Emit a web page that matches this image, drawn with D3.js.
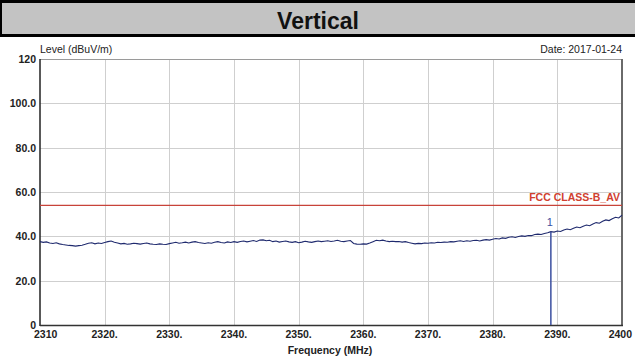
<!DOCTYPE html>
<html><head><meta charset="utf-8">
<script src="https://cdn.jsdelivr.net/npm/d3@7"></script>
<style>html,body{margin:0;padding:0;background:#fff;}svg{display:block;}</style>
</head><body>
<script>
const title = "Vertical";
const yLabel = "Level (dBuV/m)";
const xLabel = "Frequency (MHz)";
const dateText = "Date: 2017-01-24";
const xTicks = [2310, 2320, 2330, 2340, 2350, 2360, 2370, 2380, 2390, 2400];
const xTickLabels = ["2310", "2320.", "2330.", "2340.", "2350.", "2360.", "2370.", "2380.", "2390.", "2400"];
const yTicks = [0, 20, 40, 60, 80, 100, 120];
const yTickLabels = ["0", "20.0", "40.0", "60.0", "80.0", "100.0", "120"];
const limitName = "FCC CLASS-B_AV";
const limitValue = 54;
const freqStart = 2310, freqStep = 0.5;
const levels = [
 37.6,37.3,37.5,37.0,36.8,37.1,36.6,36.3,36.1,35.9,35.8,35.6,35.8,36.0,36.4,36.9,37.1,36.6,37.0,36.8,
 37.2,37.6,37.9,37.3,37.0,36.6,36.8,36.4,36.6,36.9,36.7,36.5,36.8,37.0,36.6,36.4,36.3,36.6,36.4,36.3,
 36.7,37.0,37.3,36.9,37.1,37.4,37.0,37.4,37.6,37.2,37.0,36.8,37.1,36.9,37.3,37.6,37.2,37.0,37.5,37.2,
 37.6,37.3,37.7,37.9,37.5,37.8,38.1,37.7,38.3,38.4,38.0,38.2,37.6,37.9,37.4,37.7,37.9,37.5,37.3,37.6,
 37.1,37.4,37.8,37.5,37.3,37.6,37.9,37.6,37.8,38.0,37.7,37.9,38.2,37.8,37.6,37.9,38.1,36.8,36.5,36.4,
 36.6,36.5,37.0,37.6,38.2,38.0,38.3,37.9,37.6,37.8,37.6,37.7,37.4,37.6,37.2,36.9,36.6,36.8,36.7,37.0,
 36.9,37.1,37.0,37.3,37.2,37.4,37.3,37.6,37.5,37.8,38.0,37.7,38.0,37.8,38.1,38.2,37.9,38.3,38.5,38.3,
 38.7,39.0,38.8,39.3,39.1,39.6,39.8,39.5,39.9,40.2,40.0,40.4,40.3,40.8,41.0,40.8,41.3,41.6,42.1,41.9,
 42.4,42.2,42.9,43.3,43.0,43.6,44.2,43.9,44.6,45.1,44.8,45.6,46.2,45.9,46.8,47.4,47.1,47.9,48.6,48.3,
 49.6
];
const markerFreq = 2389;
const markerLevel = 42.1;
const markerLabel = "1";

const W = 635, H = 358;
const svg = d3.select("body").append("svg").attr("width", W).attr("height", H);
const x = d3.scaleLinear().domain([2310, 2400]).range([40, 622]);
const y = d3.scaleLinear().domain([0, 120]).range([325, 59]);

// title bar
svg.append("rect").attr("x", 0).attr("y", 0).attr("width", W).attr("height", 37).attr("fill", "#000");
svg.append("rect").attr("x", 2).attr("y", 3).attr("width", W - 2).attr("height", 31).attr("fill", "#c3c3c3");
svg.append("text").attr("x", 318).attr("y", 29).attr("text-anchor", "middle")
  .attr("font-family", "Liberation Sans, Arial, sans-serif").attr("font-weight", "bold")
  .attr("font-size", 23).attr("fill", "#111").text(title);

const font = "Liberation Sans, Arial, sans-serif";

// grid
const g = svg.append("g");
g.selectAll(".vg").data(xTicks.slice(1, -1)).enter().append("line")
  .attr("x1", d => Math.round(x(d)) + 0.5).attr("x2", d => Math.round(x(d)) + 0.5)
  .attr("y1", y(120)).attr("y2", y(0)).attr("stroke", "#cfcfcf").attr("stroke-width", 1);
g.selectAll(".hg").data(yTicks.slice(1, -1)).enter().append("line")
  .attr("x1", x(2310)).attr("x2", x(2400))
  .attr("y1", d => Math.round(y(d)) + 0.5).attr("y2", d => Math.round(y(d)) + 0.5)
  .attr("stroke", "#cfcfcf").attr("stroke-width", 1);
// frame
g.append("line").attr("x1", x(2310)).attr("x2", x(2400)).attr("y1", y(120) + 0.5).attr("y2", y(120) + 0.5)
  .attr("stroke", "#9a9a9a");
g.append("line").attr("x1", x(2400)).attr("x2", x(2400)).attr("y1", y(120)).attr("y2", y(0) + 1)
  .attr("stroke", "#6a6a6a").attr("stroke-width", 2);
g.append("line").attr("x1", x(2310)).attr("x2", x(2310)).attr("y1", y(120)).attr("y2", y(0) + 1)
  .attr("stroke", "#222").attr("stroke-width", 1.5);
g.append("line").attr("x1", x(2310)).attr("x2", x(2400) + 1).attr("y1", y(0) + 0.5).attr("y2", y(0) + 0.5)
  .attr("stroke", "#333").attr("stroke-width", 1.5);

// limit line
svg.append("line").attr("x1", x(2310)).attr("x2", x(2400)).attr("y1", y(limitValue)).attr("y2", y(limitValue))
  .attr("stroke", "#c8433a").attr("stroke-width", 1.2);
svg.append("text").attr("x", 620).attr("y", y(limitValue) - 4).attr("text-anchor", "end")
  .attr("font-family", font).attr("font-weight", "bold").attr("font-size", 10.5)
  .attr("fill", "#d0402f").text(limitName);

// trace
const pts = levels.map((v, i) => [freqStart + i * freqStep, v]);
svg.append("path").datum(pts)
  .attr("d", d3.line().x(d => x(d[0])).y(d => y(d[1])))
  .attr("fill", "none").attr("stroke", "#1f2a6e").attr("stroke-width", 1.1);

// marker
svg.append("line").attr("x1", x(markerFreq)).attr("x2", x(markerFreq))
  .attr("y1", y(markerLevel)).attr("y2", y(0))
  .attr("stroke", "#3b4fa0").attr("stroke-width", 1.5);
svg.append("text").attr("x", x(markerFreq) - 1).attr("y", y(markerLevel) - 6).attr("text-anchor", "middle")
  .attr("font-family", font).attr("font-size", 11).attr("fill", "#3b4fa0").text(markerLabel);

// y tick labels
svg.selectAll(".yl").data(yTicks).enter().append("text")
  .attr("x", 36).attr("y", d => y(d) + 4).attr("text-anchor", "end")
  .attr("font-family", font).attr("font-weight", "bold").attr("font-size", 10.5)
  .attr("fill", "#222").text((d, i) => yTickLabels[i]);

// x tick labels
svg.selectAll(".xl").data(xTicks).enter().append("text")
  .attr("x", (d, i) => i === 0 ? 34 : (i === xTicks.length - 1 ? 632 : x(d)))
  .attr("y", 338)
  .attr("text-anchor", (d, i) => i === 0 ? "start" : (i === xTicks.length - 1 ? "end" : "middle"))
  .attr("font-family", font).attr("font-weight", "bold").attr("font-size", 10.5)
  .attr("fill", "#222").text((d, i) => xTickLabels[i]);

svg.append("text").attr("x", 330).attr("y", 354).attr("text-anchor", "middle")
  .attr("font-family", font).attr("font-weight", "bold").attr("font-size", 10.5)
  .attr("fill", "#222").text(xLabel);

svg.append("text").attr("x", 40).attr("y", 53)
  .attr("font-family", font).attr("font-size", 10.5).attr("fill", "#222").text(yLabel);
svg.append("text").attr("x", 622).attr("y", 53).attr("text-anchor", "end")
  .attr("font-family", font).attr("font-size", 10.5).attr("fill", "#222").text(dateText);
</script>
</body></html>
